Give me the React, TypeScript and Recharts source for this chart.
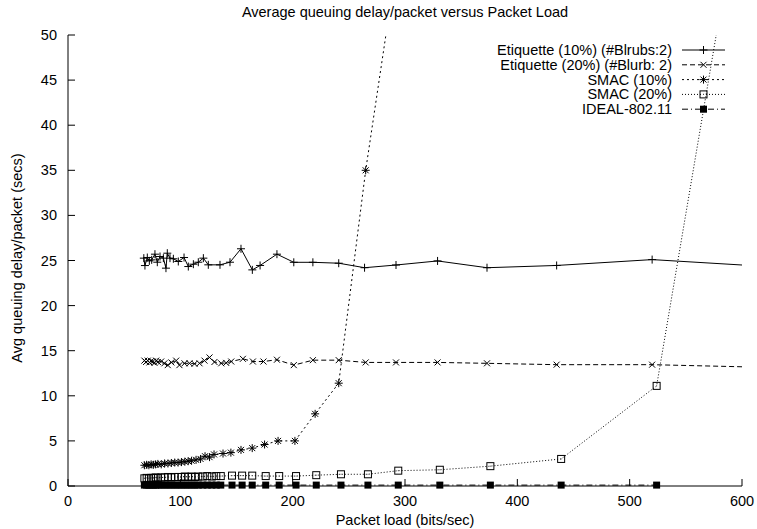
import React from 'react'
import { LineChart, Line, XAxis, YAxis, Legend } from 'recharts'

// gnuplot-style delay vs load plot, five series with point markers

const FONT = '"Liberation Sans", Arial, Helvetica, sans-serif'

const xTicks = [0, 100, 200, 300, 400, 500, 600]
const yTicks = [0, 5, 10, 15, 20, 25, 30, 35, 40, 45, 50]

const etq10X = [67.5, 68.5, 70.6, 72.4, 74.5, 77.4, 79.5, 81.9, 84.9, 87.2, 88.4, 90.8, 93.8, 98.2, 103.3, 107.1, 111.6, 116, 120.5, 124.9, 135.3, 144.2, 154, 164.1, 171, 186, 201, 218, 241, 264, 292, 329, 373, 435, 520, 640]
const etq10Y = [25.26, 24.44, 25.33, 24.96, 25.07, 25.7, 24.81, 25.44, 25.26, 24.15, 25.81, 25.26, 25.19, 24.89, 25.33, 24.33, 24.59, 24.81, 25.26, 24.52, 24.52, 24.81, 26.3, 23.96, 24.45, 25.7, 24.8, 24.8, 24.7, 24.2, 24.5, 24.95, 24.2, 24.45, 25.1, 24.2]

const etq20X = [68, 69.5, 71, 72.5, 74, 75.5, 77, 78.5, 80, 82.9, 85.8, 88.8, 92, 96.3, 99.2, 103.7, 108.2, 112.6, 117.1, 121.5, 126, 130.4, 136.4, 140.8, 145.3, 155.7, 164.6, 174, 186, 201, 218, 241, 265, 292, 329, 373, 435, 520, 640]
const etq20Y = [13.9, 13.75, 13.9, 13.7, 13.85, 13.8, 13.65, 13.9, 13.75, 13.8, 13.6, 13.4, 13.7, 13.9, 13.4, 13.6, 13.6, 13.55, 13.6, 13.9, 14.25, 13.75, 13.6, 13.65, 13.8, 14.1, 13.8, 13.8, 14.0, 13.4, 13.95, 13.95, 13.7, 13.7, 13.7, 13.6, 13.45, 13.45, 13.1]

const smac10X = [68, 70, 72, 74, 76, 78, 80, 83, 86, 89, 92, 95, 98, 101, 104, 107, 110, 114, 118, 122, 126, 130, 138, 145, 154, 164, 175, 187, 202, 220, 241, 265, 292]
const smac10Y = [2.3, 2.35, 2.3, 2.4, 2.35, 2.4, 2.45, 2.4, 2.5, 2.5, 2.55, 2.6, 2.6, 2.65, 2.7, 2.75, 2.8, 2.9, 3.0, 3.3, 3.2, 3.5, 3.6, 3.7, 4.0, 4.2, 4.6, 5.0, 5.0, 8.0, 11.4, 35, 57.5]

const smac20X = [68, 70, 72, 74, 76, 78, 80, 83, 86, 89, 92, 95, 98, 101, 104, 107, 110, 113, 116, 120, 124, 128, 132, 136, 146, 155, 164, 176, 188, 203, 221, 243, 267, 294, 331, 376, 439, 524, 620]
const smac20Y = [0.85, 0.9, 0.85, 0.9, 0.9, 0.95, 0.9, 0.95, 0.95, 1.0, 0.95, 1.0, 1.0, 1.0, 1.05, 1.0, 1.05, 1.0, 1.05, 1.05, 1.1, 1.05, 1.1, 1.1, 1.15, 1.15, 1.15, 1.1, 1.1, 1.1, 1.2, 1.3, 1.3, 1.7, 1.8, 2.2, 3.0, 11.1, 81.5]

const idealX = [68, 70, 72, 74, 76, 78, 80, 83, 86, 89, 92, 95, 98, 101, 104, 107, 110, 113, 116, 120, 124, 128, 132, 136, 146, 155, 164, 176, 188, 203, 221, 243, 267, 294, 331, 376, 439, 524]
const idealY = [0.1, 0.1, 0.1, 0.1, 0.1, 0.1, 0.1, 0.1, 0.1, 0.1, 0.1, 0.1, 0.1, 0.1, 0.1, 0.1, 0.1, 0.1, 0.1, 0.1, 0.1, 0.1, 0.1, 0.1, 0.1, 0.1, 0.1, 0.1, 0.1, 0.1, 0.1, 0.1, 0.1, 0.1, 0.1, 0.1, 0.1, 0.1]

const zip = (xs: number[], ys: number[]) => xs.map((x, i) => ({ x, y: ys[i] }))

type MarkerKind = 'plus' | 'cross' | 'star' | 'box' | 'fbox'

function Marker({ kind, cx, cy }: { kind: MarkerKind; cx: number; cy: number }) {
  const s = 4
  const d = 3
  if (kind === 'plus') {
    return <path d={`M${cx - s},${cy}H${cx + s}M${cx},${cy - s}V${cy + s}`} stroke="#000" strokeWidth={1} fill="none" />
  }
  if (kind === 'cross') {
    return <path d={`M${cx - d},${cy - d}L${cx + d},${cy + d}M${cx - d},${cy + d}L${cx + d},${cy - d}`} stroke="#000" strokeWidth={1} fill="none" />
  }
  if (kind === 'star') {
    return (
      <path
        d={`M${cx - s},${cy}H${cx + s}M${cx},${cy - s}V${cy + s}M${cx - d},${cy - d}L${cx + d},${cy + d}M${cx - d},${cy + d}L${cx + d},${cy - d}`}
        stroke="#000"
        strokeWidth={1}
        fill="none"
      />
    )
  }
  if (kind === 'box') {
    return (
      <g>
        <rect x={cx - 3.5} y={cy - 3.5} width={7} height={7} stroke="#000" strokeWidth={1} fill="none" />
        <rect x={cx - 0.5} y={cy - 0.5} width={1} height={1} fill="#555" />
      </g>
    )
  }
  return <rect x={cx - 3.5} y={cy - 3.5} width={7} height={7} fill="#000" />
}

const dotFor = (kind: MarkerKind) => (p: any) => {
  if (p.cx == null || p.cy == null) return <g key={`e-${p.index}`} />
  return (
    <g key={`${kind}-${p.index}`}>
      <Marker kind={kind} cx={p.cx} cy={p.cy} />
    </g>
  )
}

// IDEAL sits on the x axis; it gets its own unclipped axes so the squares are drawn whole, as gnuplot does
const SERIES = [
  { name: 'Etiquette (10%) (#Blrubs:2)', data: zip(etq10X, etq10Y), marker: 'plus' as MarkerKind, dash: undefined as string | undefined, clip: true },
  { name: 'Etiquette (20%) (#Blurb: 2)', data: zip(etq20X, etq20Y), marker: 'cross' as MarkerKind, dash: '5 3', clip: true },
  { name: 'SMAC (10%)', data: zip(smac10X, smac10Y), marker: 'star' as MarkerKind, dash: '2 3', clip: true },
  { name: 'SMAC (20%)', data: zip(smac20X, smac20Y), marker: 'box' as MarkerKind, dash: '1 2', clip: true },
  { name: 'IDEAL-802.11', data: zip(idealX, idealY), marker: 'fbox' as MarkerKind, dash: '6 3 1 3', clip: false },
]

const textStyle = { fontFamily: FONT, fontSize: 14.5, fill: '#000' }

const BottomTick = (p: any) => (
  <g>
    <line x1={p.x} x2={p.x} y1={p.y} y2={p.y - 7} stroke="#000" />
    <text x={p.x} y={p.y + 15} textAnchor="middle" dominantBaseline="central" style={textStyle}>
      {p.payload.value}
    </text>
  </g>
)

const LeftTick = (p: any) => (
  <g>
    <line x1={p.x} x2={p.x + 7} y1={p.y} y2={p.y} stroke="#000" />
    <text x={p.x - 11} y={p.y} textAnchor="end" dominantBaseline="central" style={textStyle}>
      {p.payload.value}
    </text>
  </g>
)

const TopTick = (p: any) => <line x1={p.x} x2={p.x} y1={p.y} y2={p.y + 7} stroke="#000" />
const RightTick = (p: any) => <line x1={p.x} x2={p.x - 7} y1={p.y} y2={p.y} stroke="#000" />

function KeyBox() {
  return (
    <svg width={362} height={80} style={{ display: 'block' }}>
      {SERIES.map((s, i) => {
        const cy = 8 + i * 14.8
        return (
          <g key={s.name}>
            <text x={292} y={cy} textAnchor="end" dominantBaseline="central" style={textStyle}>
              {s.name}
            </text>
            <line x1={302} x2={345} y1={cy} y2={cy} stroke="#000" strokeWidth={1} strokeDasharray={s.dash} />
            <Marker kind={s.marker} cx={323.5} cy={cy} />
          </g>
        )
      })}
    </svg>
  )
}

export default function App() {
  return (
    <div style={{ position: 'absolute', left: 0, top: 0, width: 757, height: 529, background: '#fff', fontFamily: FONT }}>
      <div style={{ position: 'absolute', top: 4, left: 0, width: 810, textAlign: 'center', fontSize: 14.5, lineHeight: '16px' }}>
        Average queuing delay/packet versus Packet Load
      </div>
      <LineChart width={757} height={529} margin={{ top: 35, right: 15, bottom: 0, left: 8 }}>
        <XAxis
          xAxisId="b"
          dataKey="x"
          type="number"
          domain={[0, 600]}
          ticks={xTicks}
          interval={0}
          allowDataOverflow
          height={43}
          tickSize={0}
          tickMargin={0}
          tickLine={false}
          axisLine={{ stroke: '#000' }}
          tick={BottomTick}
        />
        <XAxis
          xAxisId="t"
          orientation="top"
          dataKey="x"
          type="number"
          domain={[0, 600]}
          ticks={xTicks}
          interval={0}
          allowDataOverflow
          height={0}
          tickSize={0}
          tickMargin={0}
          tickLine={false}
          axisLine={{ stroke: '#000' }}
          tick={TopTick}
        />
        <XAxis xAxisId="free" dataKey="x" type="number" domain={[0, 600]} height={0} hide />
        <YAxis
          yAxisId="l"
          type="number"
          domain={[0, 50]}
          ticks={yTicks}
          interval={0}
          allowDataOverflow
          width={60}
          tickSize={0}
          tickMargin={0}
          tickLine={false}
          axisLine={{ stroke: '#000' }}
          tick={LeftTick}
        />
        <YAxis
          yAxisId="r"
          orientation="right"
          type="number"
          domain={[0, 50]}
          ticks={yTicks}
          interval={0}
          allowDataOverflow
          width={0}
          tickSize={0}
          tickMargin={0}
          tickLine={false}
          axisLine={{ stroke: '#000' }}
          tick={RightTick}
        />
        <YAxis yAxisId="free" type="number" domain={[0, 50]} width={0} hide />
        <Legend
          layout="horizontal"
          verticalAlign="middle"
          align="center"
          wrapperStyle={{ top: 42, left: 380, width: 362, height: 80 }}
          content={<KeyBox />}
        />
        {SERIES.map((s) => (
          <Line
            key={s.name}
            xAxisId={s.clip ? 'b' : 'free'}
            yAxisId={s.clip ? 'l' : 'free'}
            name={s.name}
            data={s.data}
            dataKey="y"
            type="linear"
            stroke="#000"
            strokeWidth={1}
            strokeDasharray={s.dash}
            dot={dotFor(s.marker)}
            activeDot={false}
            isAnimationActive={false}
          />
        ))}
      </LineChart>
      <div
        style={{
          position: 'absolute',
          left: 17,
          top: 258,
          transform: 'translate(-50%, -50%) rotate(-90deg)',
          whiteSpace: 'nowrap',
          fontSize: 14.5,
          lineHeight: '16px',
        }}
      >
        Avg queuing delay/packet (secs)
      </div>
      <div style={{ position: 'absolute', left: 0, top: 512, width: 810, textAlign: 'center', fontSize: 14.5, lineHeight: '16px' }}>
        Packet load (bits/sec)
      </div>
    </div>
  )
}
